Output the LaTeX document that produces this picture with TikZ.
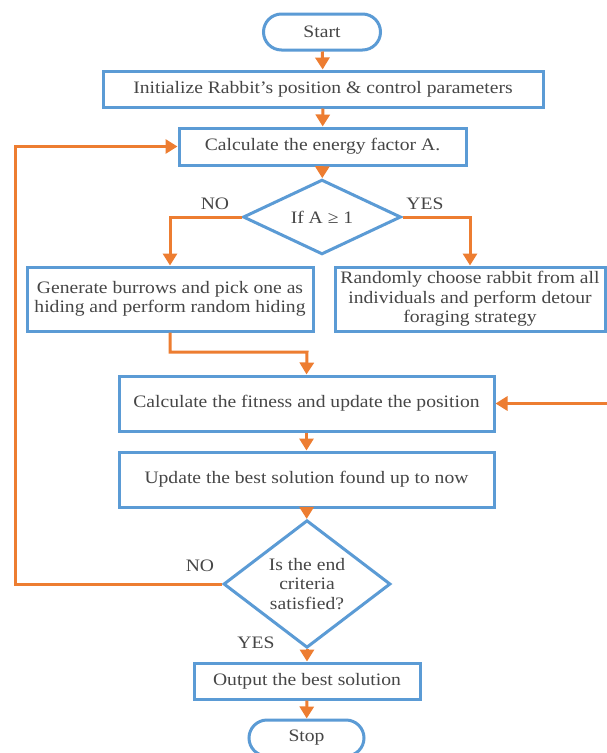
\documentclass[tikz,border=0pt]{standalone}
\usepackage{fontspec}
\setmainfont{Liberation Serif}[FakeStretch=1.12]
\usetikzlibrary{shapes.geometric,arrows.meta}
\definecolor{bblue}{HTML}{5B9BD5}
\definecolor{borange}{HTML}{ED7D31}
\definecolor{tgray}{HTML}{464646}
\begin{document}
\begin{tikzpicture}[x=1pt,y=-1pt,
  box/.style={draw=bblue,line width=3pt,fill=white,text=tgray,
    font=\fontsize{17.5}{19.5}\selectfont,align=center,inner sep=0pt},
  term/.style={box,rounded corners=18pt},
  dia/.style={box,diamond},
  lab/.style={text=tgray,font=\fontsize{17.5}{19.5}\selectfont,inner sep=0pt},
  conn/.style={draw=borange,line width=3pt},
  arr/.style={conn,-{Triangle[width=14pt,length=12pt]}}]
\useasboundingbox (0,0) rectangle (607,753);
\clip (0,0) rectangle (607,753);
\fill[white] (0,0) rectangle (607,753);

\node[term,minimum width=117pt,minimum height=36pt] (start) at (322,32) {Start};
\node[box,minimum width=440pt,minimum height=36pt] (init) at (323,89) {Initialize Rabbit’s position \& control parameters};
\node[box,minimum width=287pt,minimum height=37pt] (calc) at (322.5,146.5) {Calculate the energy factor A.};
\node[dia,minimum width=158pt,minimum height=66pt] (d1) at (322,217) {If A ≥ 1};
\node[box,minimum width=286pt,minimum height=64pt] (lbox) at (170,299) {Generate burrows and pick one as\\hiding and perform random hiding};
\node[box,minimum width=270pt,minimum height=64pt] (rbox) at (470,299) {Randomly choose rabbit from all\\individuals and perform detour\\foraging strategy};
\node[box,minimum width=375pt,minimum height=55pt] (fit) at (306.5,403.5) {Calculate the fitness and update the position};
\node[box,minimum width=375pt,minimum height=55pt] (upd) at (306.5,479.5) {Update the best solution found up to now};
\node[dia,minimum width=167pt,minimum height=114pt] (d2) at (307,584) {Is the end\\criteria\\satisfied?};
\node[box,minimum width=226pt,minimum height=36pt] (out) at (307,681) {Output the best solution};
\node[term,minimum width=115pt,minimum height=36pt] (stop) at (306.5,738) {Stop};

\node[lab] (no1) at (215,204) {NO};
\node[lab] (yes1) at (425,204) {YES};
\node[lab] (no2) at (200,566) {NO};
\node[lab] (yes2) at (256,643) {YES};

\coordinate (j1) at (307,352);
\coordinate (r1) at (625,299);
\coordinate (l1) at (15,584);

\draw[arr] (start) -- (init);
\draw[arr] (init) -- (calc);
\draw[arr] (calc) -- (d1);
\draw[arr] (d1.west) -| (lbox.north);
\draw[arr] (d1.east) -| (rbox.north);
\draw[arr] (lbox.south) |- (j1) -- (fit.north);
\draw[arr] (rbox.east) -- (r1) |- (fit.east);
\draw[arr] (fit) -- (upd);
\draw[arr] (upd) -- (d2);
\draw[arr] (d2) -- (out);
\draw[arr] (out) -- (stop);
\draw[arr] (d2.west) -- (l1) |- (calc.west);
\end{tikzpicture}
\end{document}
